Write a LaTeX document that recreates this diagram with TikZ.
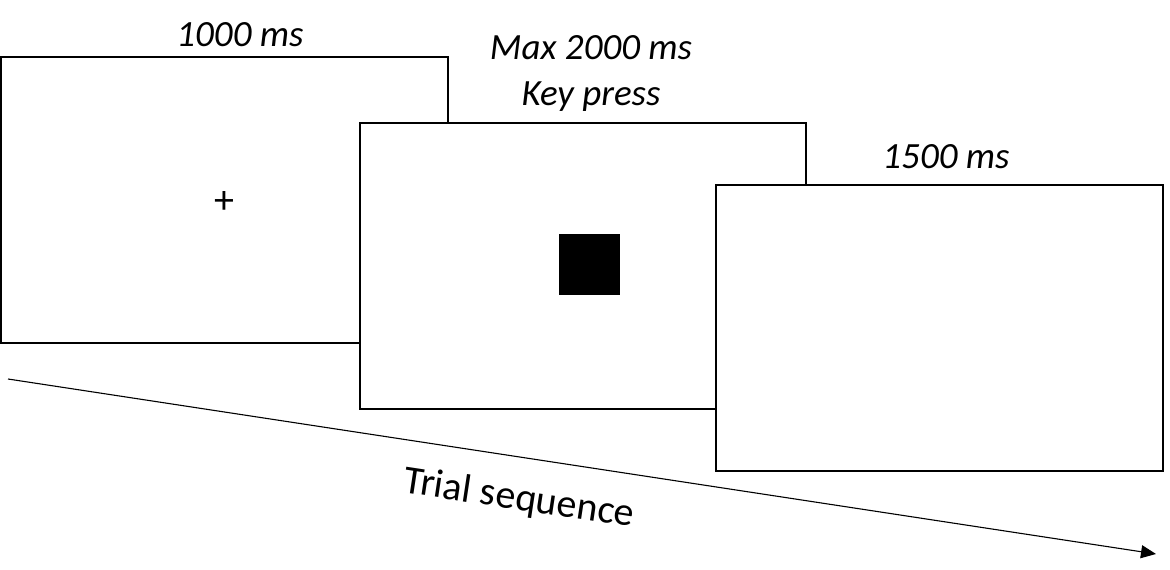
\documentclass[tikz,border=0pt]{standalone}
\usepackage{fontspec}
\setmainfont{Carlito}
\usetikzlibrary{arrows.meta}
\begin{document}
\begin{tikzpicture}[x=1pt,y=-1pt,
  screen/.style={draw=black,line width=2.4pt,fill=white},
  dur/.style={font=\fontsize{37}{46}\selectfont\itshape,inner sep=0pt},
  seqarrow/.style={line width=1.1pt,-{Triangle[length=15pt,width=13pt]}}]
\useasboundingbox (0,0) rectangle (1170,570);
\fill[white] (0,0) rectangle (1170,570);
% screens
\draw[screen] (1,57) rectangle (448,343);
\node[font=\fontsize{40}{44}\selectfont,inner sep=0pt] (plus) at (224,203) {+};
\draw[screen] (360,123) rectangle (806,409);
\node[fill=black,minimum size=61pt,inner sep=0pt] (stim) at (589.5,264.5) {};
\draw[screen] (716,185) rectangle (1163,471);
% labels
\node[dur] (l1) at (240,35) {1000 ms};
\node[dur,align=center] (l2) at (591,73) {Max 2000 ms\\Key press};
\node[dur] (l3) at (946,157) {1500 ms};
% arrow
\coordinate (a0) at (8,379);
\coordinate (a1) at (1156,554);
\draw[seqarrow] (a0) -- (a1);
\node[font=\fontsize{40}{44}\selectfont,rotate=-8.6,inner sep=0pt] (trial) at (519,499) {Trial sequence};
\end{tikzpicture}
\end{document}
